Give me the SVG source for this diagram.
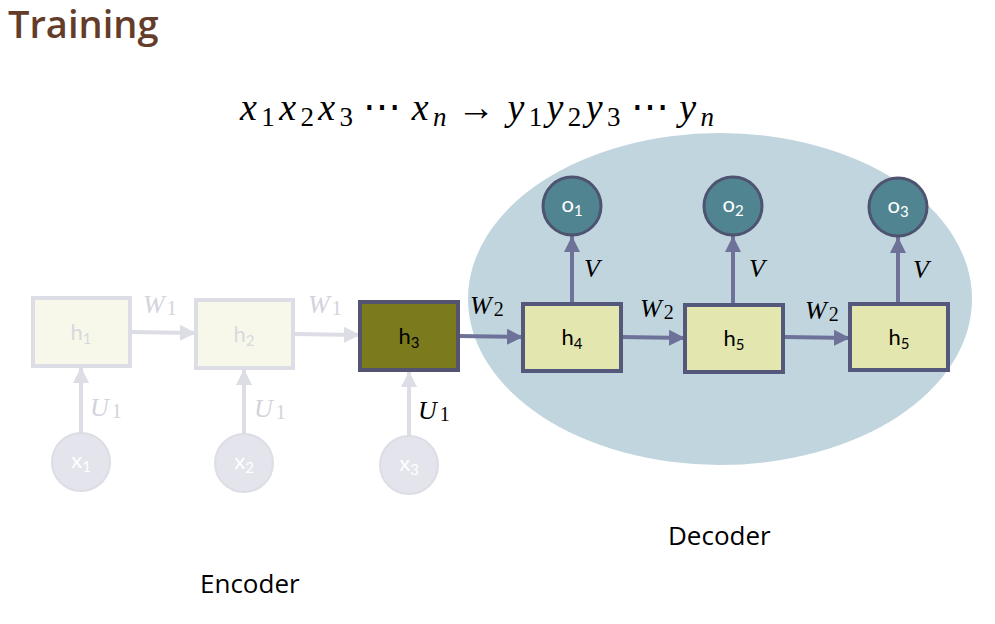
<svg xmlns="http://www.w3.org/2000/svg" width="995" height="624" viewBox="0 0 995 624">
<defs>
<marker id="ag" viewBox="0 0 10 10" refX="10" refY="5" markerWidth="4" markerHeight="4" orient="auto" markerUnits="strokeWidth"><path d="M0,0 L10,5 L0,10 z" fill="#dcdde5"/></marker>
<marker id="ab" viewBox="0 0 10 10" refX="10" refY="5" markerWidth="4" markerHeight="4" orient="auto" markerUnits="strokeWidth"><path d="M0,0 L10,5 L0,10 z" fill="#6e7299"/></marker>
</defs>
<style>
.math{font-family:"Liberation Serif","DejaVu Serif",serif;font-style:italic}
.sub{font-style:normal}
.lbl{font-family:"Liberation Serif",serif;font-style:italic;font-size:26px}
.node{font-family:"Lato","Noto Sans",sans-serif;font-size:22px;text-anchor:middle}
.fbox{fill:#f7f8ea;stroke:#dcdde5;stroke-width:4}
.dbox{fill:#e3e6ae;stroke:#54587a;stroke-width:4}
.fcirc{fill:#e3e4ec;stroke:#dcdde5;stroke-width:2}
.ocirc{fill:#508490;stroke:#4e5470;stroke-width:3}
.gl{stroke:#dcdde5;stroke-width:4;fill:none;marker-end:url(#ag)}
.bl{stroke:#6e7299;stroke-width:4;fill:none;marker-end:url(#ab)}
.cap{font-family:"Open Sans","Noto Sans",sans-serif;font-size:26px;fill:#000}
</style>
<rect width="995" height="624" fill="#ffffff"/>
<text x="8" y="38" font-family="'Open Sans','Noto Sans',sans-serif" font-weight="600" font-size="38" fill="#633d29">Training</text>
<text x="240" y="120" class="math" font-size="38" fill="#000" textLength="474" lengthAdjust="spacing">x<tspan class="sub" font-size="27" dy="6">1</tspan><tspan dy="-6">x</tspan><tspan class="sub" font-size="27" dy="6">2</tspan><tspan dy="-6">x</tspan><tspan class="sub" font-size="27" dy="6">3</tspan><tspan class="sub" dy="-6" dx="6">⋯</tspan><tspan dx="6">x</tspan><tspan font-size="27" dy="6">n</tspan><tspan class="sub" dy="-6" dx="6">→</tspan><tspan dx="8">y</tspan><tspan class="sub" font-size="27" dy="6">1</tspan><tspan dy="-6">y</tspan><tspan class="sub" font-size="27" dy="6">2</tspan><tspan dy="-6">y</tspan><tspan class="sub" font-size="27" dy="6">3</tspan><tspan class="sub" dy="-6" dx="6">⋯</tspan><tspan dx="6">y</tspan><tspan font-size="27" dy="6">n</tspan></text>
<ellipse id="decoder-region" cx="720" cy="299" rx="252" ry="166" fill="#c0d5dd"/>
<g id="connectors">
<line class="gl" x1="130" y1="332" x2="196" y2="333"/>
<line class="gl" x1="293" y1="334" x2="360" y2="335"/>
<line class="bl" x1="458" y1="336" x2="523" y2="337"/>
<line class="bl" x1="621" y1="337" x2="685" y2="338"/>
<line class="bl" x1="785" y1="337" x2="850" y2="338"/>
<line class="gl" x1="81" y1="433" x2="81" y2="367"/>
<line class="gl" x1="244" y1="434" x2="244" y2="369"/>
<line class="gl" x1="409" y1="436" x2="409" y2="371"/>
<line class="bl" x1="572" y1="304" x2="572" y2="236"/>
<line class="bl" x1="733" y1="305" x2="733" y2="236"/>
<line class="bl" x1="898" y1="304" x2="898" y2="237"/>
<text class="lbl" x="143" y="313" fill="#d2d3dc">W<tspan class="sub" font-size="20" dx="2" dy="2">1</tspan></text>
<text class="lbl" x="308" y="313" fill="#d2d3dc">W<tspan class="sub" font-size="20" dx="2" dy="2">1</tspan></text>
<text class="lbl" x="90" y="416" fill="#d2d3dc">U<tspan class="sub" font-size="20" dx="3" dy="2">1</tspan></text>
<text class="lbl" x="254" y="417" fill="#d2d3dc">U<tspan class="sub" font-size="20" dx="3" dy="2">1</tspan></text>
<text class="lbl" x="418" y="419" fill="#000">U<tspan class="sub" font-size="20" dx="3" dy="2">1</tspan></text>
<text class="lbl" x="470" y="314" fill="#000">W<tspan class="sub" font-size="20" dx="2" dy="2">2</tspan></text>
<text class="lbl" x="640" y="317" fill="#000">W<tspan class="sub" font-size="20" dx="2" dy="2">2</tspan></text>
<text class="lbl" x="805" y="319" fill="#000">W<tspan class="sub" font-size="20" dx="2" dy="2">2</tspan></text>
<text class="lbl" x="584" y="277" fill="#000">V</text>
<text class="lbl" x="749" y="277" fill="#000">V</text>
<text class="lbl" x="913" y="278" fill="#000">V</text>
</g>
<g id="h1"><rect class="fbox" x="33" y="298" width="97" height="68"/><text class="node" x="81" y="340" fill="#d8d9de">h<tspan font-size="15" dy="4">1</tspan></text></g>
<g id="h2"><rect class="fbox" x="196" y="300" width="97" height="68"/><text class="node" x="244" y="342" fill="#d8d9de">h<tspan font-size="15" dy="4">2</tspan></text></g>
<g id="h3"><rect x="360" y="302" width="98" height="68" fill="#7b7b1e" stroke="#545470" stroke-width="4"/><text class="node" x="409" y="344" fill="#000">h<tspan font-size="15" dy="4">3</tspan></text></g>
<g id="h4"><rect class="dbox" x="523" y="304" width="98" height="67"/><text class="node" x="572" y="345" fill="#000">h<tspan font-size="15" dy="4">4</tspan></text></g>
<g id="h5a"><rect class="dbox" x="685" y="305" width="98" height="67"/><text class="node" x="734" y="346" fill="#000">h<tspan font-size="15" dy="4">5</tspan></text></g>
<g id="h5b"><rect class="dbox" x="850" y="304" width="98" height="66"/><text class="node" x="899" y="345" fill="#000">h<tspan font-size="15" dy="4">5</tspan></text></g>
<g id="x1"><circle class="fcirc" cx="81" cy="462" r="29"/><text class="node" x="81" y="468" fill="#ffffff">x<tspan font-size="15" dy="4">1</tspan></text></g>
<g id="x2"><circle class="fcirc" cx="244" cy="463" r="29"/><text class="node" x="244" y="469" fill="#ffffff">x<tspan font-size="15" dy="4">2</tspan></text></g>
<g id="x3"><circle class="fcirc" cx="409" cy="465" r="29"/><text class="node" x="409" y="471" fill="#ffffff">x<tspan font-size="15" dy="4">3</tspan></text></g>
<g id="o1"><circle class="ocirc" cx="572" cy="206" r="29"/><text class="node" x="572" y="212" fill="#ffffff">o<tspan font-size="15" dy="4">1</tspan></text></g>
<g id="o2"><circle class="ocirc" cx="733" cy="206" r="29"/><text class="node" x="733" y="212" fill="#ffffff">o<tspan font-size="15" dy="4">2</tspan></text></g>
<g id="o3"><circle class="ocirc" cx="898" cy="207" r="29"/><text class="node" x="898" y="213" fill="#ffffff">o<tspan font-size="15" dy="4">3</tspan></text></g>
<text class="cap" x="668" y="545">Decoder</text>
<text class="cap" x="200" y="593">Encoder</text>
</svg>
